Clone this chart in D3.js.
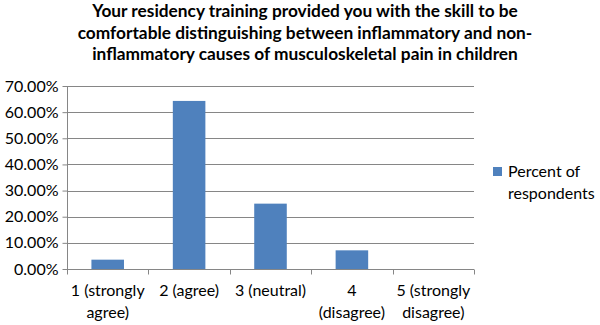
<!DOCTYPE html>
<html><head><meta charset="utf-8">
<script src="https://cdnjs.cloudflare.com/ajax/libs/d3/7.8.5/d3.min.js"></script>
<style>body{margin:0;background:#fff;} svg{display:block;font-family:Lato,"Open Sans",sans-serif;}</style>
</head><body>
<script>
const titleLines = ["Your residency training provided you with the skill to be",
  "comfortable distinguishing  between inflammatory and non-",
  "inflammatory causes of musculoskeletal pain in children"];
const categories = ["1 (strongly agree)", "2 (agree)", "3 (neutral)", "4 (disagree)", "5 (strongly disagree)"];
const categoryLines = [["1 (strongly", "agree)"], ["2 (agree)"], ["3 (neutral)"], ["4", "(disagree)"], ["5 (strongly", "disagree)"]];
const values = [0.0357, 0.6429, 0.25, 0.0714, 0];
const yTicks = [0, 0.1, 0.2, 0.3, 0.4, 0.5, 0.6, 0.7];
const seriesName = ["Percent of", "respondents"];

const W = 600, H = 325;
const svg = d3.select("body").append("svg").attr("width", W).attr("height", H);
const mL = 67, mR = 474, mT = 86, mB = 269;
const x = d3.scaleBand().domain(categories).range([mL, mR]).paddingInner(0.6).paddingOuter(0.3);
const xb = d3.scaleBand().domain(categories).range([mL, mR]);
const y = d3.scaleLinear().domain([0, 0.7]).range([mB, mT]);
const grey = "#868686";

svg.append("g").selectAll("text").data(titleLines).join("text")
  .attr("x", 305).attr("y", (d, i) => 17 + i * 21.5).attr("text-anchor", "middle")
  .attr("font-weight", "bold").attr("font-size", 17.3).attr("fill", "#000").text(d => d);

// grid
svg.append("g").selectAll("line").data(yTicks.filter(t => t > 0)).join("line")
  .attr("x1", mL).attr("x2", mR).attr("y1", d => Math.round(y(d)) + 0.5).attr("y2", d => Math.round(y(d)) + 0.5)
  .attr("stroke", grey).attr("stroke-width", 1);

const yAxis = svg.append("g").attr("transform", `translate(${mL + 0.5},0)`)
  .call(d3.axisLeft(y).tickValues(yTicks).tickFormat(d => (d * 100).toFixed(2) + "%").tickSize(5).tickPadding(4));
yAxis.selectAll("path,line").attr("stroke", grey);
yAxis.selectAll("text").attr("font-size", 16).attr("fill", "#000").attr("font-family", "Lato");
yAxis.select(".domain").attr("d", `M0,${mT}V${mB}`);

// bars
svg.append("g").selectAll("rect").data(values).join("rect")
  .attr("x", (d, i) => x(categories[i])).attr("width", x.bandwidth())
  .attr("y", d => y(d)).attr("height", d => mB - y(d)).attr("fill", "#4F81BD");

// x axis
const xg = svg.append("g").attr("transform", `translate(0,${mB + 0.5})`);
xg.append("line").attr("x1", mL).attr("x2", mR).attr("stroke", grey);
const bounds = categories.map(c => xb(c)).concat([mR]);
xg.selectAll(".tk").data(bounds).join("line").attr("class", "tk")
  .attr("x1", d => Math.round(d) + 0.5).attr("x2", d => Math.round(d) + 0.5).attr("y1", 0).attr("y2", 5).attr("stroke", grey);
xg.selectAll(".lbl").data(categoryLines).join("text").attr("class", "lbl")
  .attr("text-anchor", "middle").attr("font-size", 16).attr("fill", "#000")
  .attr("transform", (d, i) => `translate(${xb(categories[i]) + xb.bandwidth() / 2},0)`)
  .selectAll("tspan").data(d => d).join("tspan").attr("x", 0).attr("y", (d, i) => 26 + i * 22).text(d => d);

// legend
const lg = svg.append("g").attr("transform", "translate(493,167)");
lg.append("rect").attr("width", 9).attr("height", 9).attr("fill", "#4F81BD");
lg.selectAll("text").data(seriesName).join("text").attr("x", 15).attr("y", (d, i) => 10 + i * 22)
  .attr("font-size", 16).attr("fill", "#000").text(d => d);
</script>
</body></html>
